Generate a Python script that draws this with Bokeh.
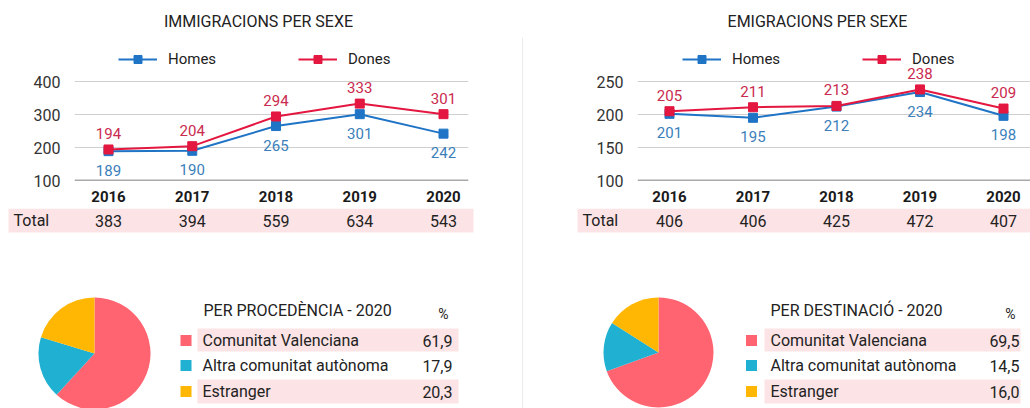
import math
from bokeh.plotting import figure
from bokeh.models import (Range1d, FixedTicker, Legend, LegendItem, Label, Span,
                          Div, ColumnDataSource)
from bokeh.layouts import row, column
from bokeh.embed import file_html
from bokeh.resources import INLINE
from bokeh.core.properties import value

FONT = "Roboto"

# ---------------- data ----------------
years = [2016, 2017, 2018, 2019, 2020]
series_names = ["Homes", "Dones"]
imm_homes = [189, 190, 265, 301, 242]
imm_dones = [194, 204, 294, 333, 301]
imm_total = [383, 394, 559, 634, 543]
emi_homes = [201, 195, 212, 234, 198]
emi_dones = [205, 211, 213, 238, 209]
emi_total = [406, 406, 425, 472, 407]
imm_yticks = [100, 200, 300, 400]
emi_yticks = [100, 150, 200, 250]
origin_labels = ["Comunitat Valenciana", "Altra comunitat autònoma", "Estranger"]
proc_pct = [61.9, 17.9, 20.3]
dest_pct = [69.5, 14.5, 16.0]
chart_titles = ["IMMIGRACIONS PER SEXE", "EMIGRACIONS PER SEXE"]
table_titles = ["PER PROCEDÈNCIA - 2020", "PER DESTINACIÓ - 2020"]
total_label = "Total"

# ---------------- styles ----------------
HOMES_C = "#1f74c6"
DONES_C = "#e3173f"
HOMES_LBL = "#3b80ba"
DONES_LBL = "#c92a4e"
PIE_C = ["#ff6470", "#1fb0d2", "#ffb703"]
BAND = "#fce3e5"
TXT = "#222222"
GRID = "#cfcfcf"


def fmt_pct(v):
    return f"{v:.1f}".replace(".", ",")


def half(homes, dones, totals, yticks, title, tbl_title, pct, L):
    width = L["col_r"] - L["col_l"]
    k = (L["x20"] - L["x16"]) / 4.0

    def yr(px):
        return 2016 + (px - L["x16"]) / k

    v_lo, v_hi = yticks[0], yticks[-1]
    scale = 99.0 / (v_hi - v_lo)
    # ---------- line chart ----------
    pa = figure(width=width, height=208, output_backend="svg", toolbar_location=None,
                x_range=Range1d(yr(L["frame_l"]), yr(L["frame_r"])),
                y_range=Range1d(v_lo, v_lo + 180.0 / scale),
                min_border_left=L["frame_l"] - L["col_l"],
                min_border_right=L["col_r"] - L["frame_r"],
                min_border_top=0, min_border_bottom=28, title=None)
    pa.frame_align = False
    pa.outline_line_color = None
    pa.extra_x_ranges = {"px": Range1d(L["frame_l"], L["frame_r"])}
    pa.extra_y_ranges = {"py": Range1d(180, 0)}
    pa.xgrid.visible = False
    pa.ygrid.ticker = FixedTicker(ticks=yticks)
    pa.ygrid.grid_line_color = GRID
    pa.yaxis.ticker = FixedTicker(ticks=yticks)
    pa.xaxis.ticker = FixedTicker(ticks=years)
    for ax in (pa.xaxis, pa.yaxis):
        ax.axis_line_color = None
        ax.major_tick_line_color = None
        ax.minor_tick_line_color = None
    pa.yaxis.major_label_text_font = FONT
    pa.yaxis.major_label_text_font_size = "16px"
    pa.yaxis.major_label_text_color = "#333333"
    pa.yaxis.major_label_standoff = 8
    pa.xaxis.major_label_text_font = FONT
    pa.xaxis.major_label_text_font_size = "15px"
    pa.xaxis.major_label_text_font_style = "bold"
    pa.xaxis.major_label_text_color = "#1a1a1a"
    pa.xaxis.major_label_standoff = 4
    pa.add_layout(Span(location=v_lo, dimension="width", line_color="#555555", line_width=1.5))

    src = ColumnDataSource(dict(x=years, h=homes, d=dones,
                                ht=[str(v) for v in homes], dt=[str(v) for v in dones]))
    lh = pa.line("x", "h", source=src, line_color=HOMES_C, line_width=2)
    mh = pa.scatter("x", "h", source=src, marker="square", size=9, color=HOMES_C)
    ld = pa.line("x", "d", source=src, line_color=DONES_C, line_width=2)
    md = pa.scatter("x", "d", source=src, marker="square", size=9, color=DONES_C)
    pa.text("x", "h", text="ht", source=src, y_offset=19, text_align="center",
            text_baseline="middle", text_font=value(FONT), text_font_size="15px",
            text_color=HOMES_LBL)
    pa.text("x", "d", text="dt", source=src, y_offset=-16, text_align="center",
            text_baseline="middle", text_font=value(FONT), text_font_size="15px",
            text_color=DONES_LBL)

    leg = Legend(items=[LegendItem(label=series_names[0], renderers=[lh, mh]),
                        LegendItem(label=series_names[1], renderers=[ld, md])],
                 orientation="horizontal",
                 location=(L["leg_x"] - L["frame_l"], 111))
    leg.padding = 0
    leg.margin = 0
    leg.spacing = 0
    leg.glyph_width = 39
    leg.glyph_height = 20
    leg.label_height = 20
    leg.label_standoff = 11
    leg.label_width = 130
    leg.label_text_font = FONT
    leg.label_text_font_size = "15px"
    leg.label_text_color = TXT
    leg.border_line_color = None
    leg.background_fill_alpha = 0
    pa.add_layout(leg)

    pa.add_layout(Label(x=L["title_x"], y=21, x_range_name="px", y_range_name="py",
                        text=title, text_align="center", text_baseline="middle",
                        text_font=FONT, text_font_size="16px", text_color=TXT))

    # ---------- totals + pie + table ----------
    pb = figure(width=width, height=200, output_backend="svg", toolbar_location=None,
                x_range=Range1d(L["col_l"], L["col_r"]), y_range=Range1d(408, 208),
                x_axis_type=None, y_axis_type=None, min_border=0, title=None)
    pb.frame_align = False
    pb.outline_line_color = None
    pb.grid.visible = False
    pb.extra_x_ranges = {"yr": Range1d(yr(L["col_l"]), yr(L["col_r"]))}

    pb.quad(left=[L["band_l"]], right=[L["band_r"]], top=[208], bottom=[232],
            color=BAND, line_color=None)
    pb.text(x=[L["total_x"]], y=[220], text=[total_label], text_align="left",
            text_baseline="middle", text_font=value(FONT), text_font_size="16px",
            text_color=TXT)
    pb.text(x=years, y=[220] * len(years), text=[str(v) for v in totals],
            x_range_name="yr", text_align="center", text_baseline="middle",
            text_font=value(FONT), text_font_size="16px", text_color=TXT)

    # pie, clockwise from top
    starts, ends = [], []
    cum = 0.0
    tot = sum(pct)
    for v in pct:
        starts.append(math.pi / 2 - 2 * math.pi * cum / tot)
        cum += v
        ends.append(math.pi / 2 - 2 * math.pi * cum / tot)
    n = len(pct)
    pb.wedge(x=[L["pie_x"]] * n, y=[L["pie_y"]] * n, radius=L["pie_r"],
             radius_units="screen", start_angle=starts, end_angle=ends,
             direction="clock", fill_color=PIE_C, line_color=None)

    pb.text(x=[L["tt_x"]], y=[310], text=[tbl_title], text_align="left",
            text_baseline="middle", text_font=value(FONT), text_font_size="16px",
            text_color=TXT)
    pb.text(x=[L["pct_x"]], y=[313], text=["%"], text_align="center",
            text_baseline="middle", text_font=value(FONT), text_font_size="14px",
            text_color=TXT)
    row_y = [340, 365, 391]
    pb.quad(left=[L["tb_l"]] * 2, right=[L["tb_r"]] * 2, top=[328, 379],
            bottom=[351, 403], color=BAND, line_color=None)
    pb.scatter(x=[L["sq_x"]] * n, y=row_y, marker="square", size=11,
               color=PIE_C, line_color=None)
    pb.text(x=[L["lbl_x"]] * n, y=row_y, text=origin_labels, text_align="left",
            text_baseline="middle", text_font=value(FONT), text_font_size="16px",
            text_color=TXT)
    pb.text(x=[L["val_x"]] * n, y=row_y, text=[fmt_pct(v) for v in pct],
            text_align="right", text_baseline="middle", text_font=value(FONT),
            text_font_size="16px", text_color=TXT)
    return column(pa, pb, spacing=0)


LEFT = dict(col_l=0, col_r=522, frame_l=74, frame_r=468, x16=108, x20=443,
            title_x=258, leg_x=118, band_l=8, band_r=473, total_x=13,
            pie_x=94, pie_y=353, pie_r=56, tt_x=203, pct_x=443,
            tb_l=197, tb_r=458, sq_x=185.5, lbl_x=202, val_x=452)
RIGHT = dict(col_l=523, col_r=1030, frame_l=637, frame_r=1030, x16=669, x20=1003,
             title_x=817, leg_x=682, band_l=577, band_r=1030, total_x=582,
             pie_x=658, pie_y=352, pie_r=55, tt_x=770, pct_x=1010,
             tb_l=764, tb_r=1020, sq_x=751, lbl_x=770, val_x=1019)

left = half(imm_homes, imm_dones, imm_total, imm_yticks, chart_titles[0],
            table_titles[0], proc_pct, LEFT)
right = half(emi_homes, emi_dones, emi_total, emi_yticks, chart_titles[1],
             table_titles[1], dest_pct, RIGHT)
divider = Div(text="", width=1, height=370, margin=(38, 0, 0, 0),
              styles={"background-color": "#ebebeb"})

layout = row(left, divider, right, spacing=0)
open("out.html", "w").write(file_html(layout, INLINE))
